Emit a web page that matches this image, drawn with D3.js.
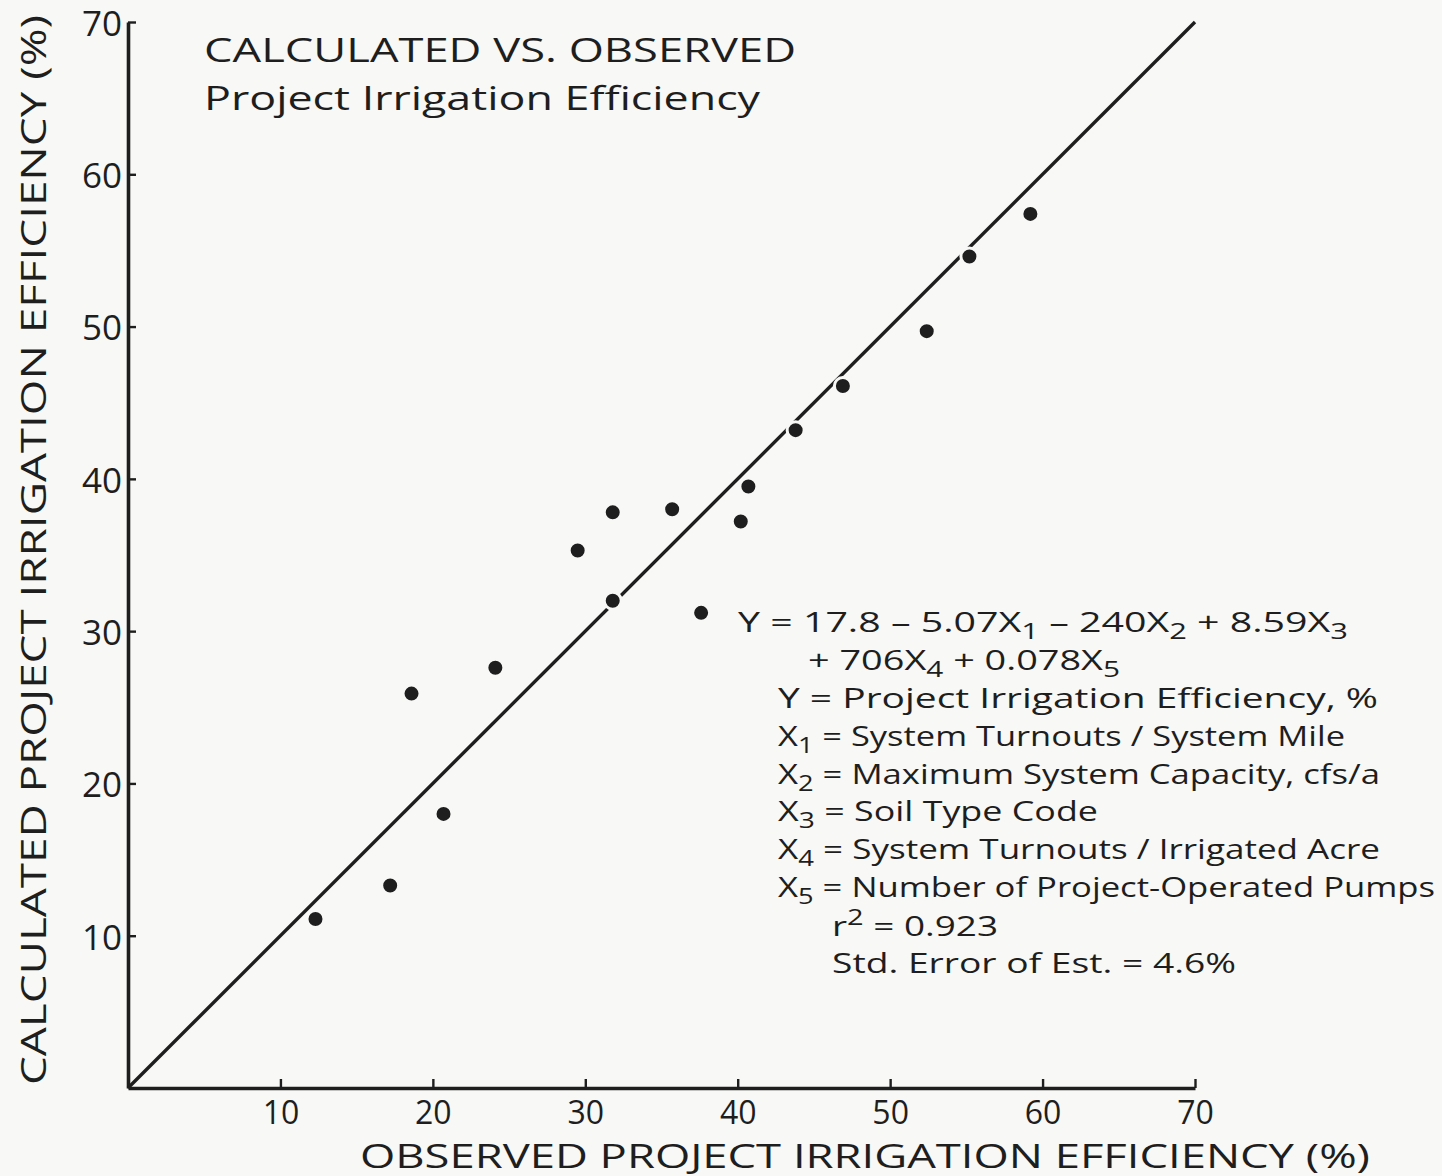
<!DOCTYPE html>
<html>
<head>
<meta charset="utf-8">
<script src="https://cdn.jsdelivr.net/npm/d3@7"></script>
<style>
  html, body { margin: 0; padding: 0; background: #f8f8f6; }
  svg { display: block; }
  text { font-family: "Open Sans", "DejaVu Sans", sans-serif; fill: #1e1e1e; }
</style>
</head>
<body>
<svg id="chart" width="1442" height="1176"></svg>
<script>
// Observed vs calculated project irrigation efficiency (%)
const observed   = [12.3, 17.2, 18.6, 20.7, 24.1, 29.5, 31.8, 31.8, 35.7, 37.6, 40.2, 40.7, 43.8, 46.9, 52.4, 55.2, 59.2];
const calculated = [11.1, 13.3, 25.9, 18.0, 27.6, 35.3, 37.8, 32.0, 38.0, 31.2, 37.2, 39.5, 43.2, 46.1, 49.7, 54.6, 57.4];
const tickValues = [10, 20, 30, 40, 50, 60, 70];
const axisMax = 70;

const svg = d3.select("#chart");
const margin = { left: 128, right: 247, top: 22, bottom: 88 };
const W = 1442, H = 1176;

const x = d3.scaleLinear().domain([0, axisMax]).range([margin.left, W - margin.right]);
const y = d3.scaleLinear().domain([0, axisMax]).range([H - margin.bottom, margin.top]);

const ink = "#1e1e1e";
const paper = "#f8f8f6";

// 1:1 line
svg.append("line")
  .attr("x1", x(0)).attr("y1", y(0))
  .attr("x2", x(axisMax)).attr("y2", y(axisMax))
  .attr("stroke", ink).attr("stroke-width", 3.4);

// Axes with inward ticks
const yAxis = svg.append("g")
  .attr("transform", `translate(${x(0)},0)`)
  .call(d3.axisLeft(y).tickValues(tickValues).tickSizeInner(-8).tickSizeOuter(0).tickPadding(8).tickFormat(d3.format("d")));
const xAxis = svg.append("g")
  .attr("transform", `translate(0,${y(0)})`)
  .call(d3.axisBottom(x).tickValues(tickValues).tickSizeInner(-9).tickSizeOuter(0).tickPadding(10).tickFormat(d3.format("d")));

[xAxis, yAxis].forEach(g => {
  g.select(".domain").attr("stroke", ink).attr("stroke-width", 3.6);
  g.selectAll(".tick line").attr("stroke", ink).attr("stroke-width", 2.4);
  g.selectAll(".tick text").attr("fill", ink).style("font-family", "\"Open Sans\", sans-serif");
});
yAxis.selectAll(".tick text").attr("font-size", 35).attr("dy", "0.38em").attr("x", -6);
xAxis.selectAll(".tick text").attr("font-size", 32).attr("dy", "0.82em");

// Points, with a thin halo so the line breaks around them
svg.append("g").selectAll("circle")
  .data(observed.map((v, i) => [v, calculated[i]]))
  .join("circle")
  .attr("cx", d => x(d[0]))
  .attr("cy", d => y(d[1]))
  .attr("r", 8.5)
  .attr("fill", ink)
  .attr("stroke", paper)
  .attr("stroke-width", 3);

// Axis titles
svg.append("text")
  .attr("x", 360).attr("y", 1168)
  .attr("font-size", 32)
  .attr("textLength", 1010).attr("lengthAdjust", "spacingAndGlyphs")
  .text("OBSERVED PROJECT IRRIGATION EFFICIENCY (%)");

svg.append("text")
  .attr("transform", "translate(46,1085) rotate(-90)")
  .attr("font-size", 34)
  .attr("textLength", 1070).attr("lengthAdjust", "spacingAndGlyphs")
  .text("CALCULATED PROJECT IRRIGATION EFFICIENCY (%)");

// Title
svg.append("text")
  .attr("x", 204).attr("y", 62)
  .attr("font-size", 32)
  .attr("textLength", 592).attr("lengthAdjust", "spacingAndGlyphs")
  .text("CALCULATED VS. OBSERVED");
svg.append("text")
  .attr("x", 204).attr("y", 110)
  .attr("font-size", 32)
  .attr("textLength", 556).attr("lengthAdjust", "spacingAndGlyphs")
  .text("Project Irrigation Efficiency");

// Regression equation block; each line is a list of [text, "sub" | "sup"]
const eqLines = [
  { x: 738, y: 632, w: 610, parts: [["Y = 17.8 \u2013 5.07X"], ["1", "sub"], [" \u2013 240X"], ["2", "sub"], [" + 8.59X"], ["3", "sub"]] },
  { x: 808, y: 670, w: 312, parts: [["+ 706X"], ["4", "sub"], [" + 0.078X"], ["5", "sub"]] },
  { x: 778, y: 708, w: 600, parts: [["Y  = Project Irrigation Efficiency, %"]] },
  { x: 778, y: 746, w: 567, parts: [["X"], ["1", "sub"], [" = System Turnouts / System Mile"]] },
  { x: 778, y: 784, w: 602, parts: [["X"], ["2", "sub"], [" = Maximum System Capacity, cfs/a"]] },
  { x: 778, y: 821, w: 320, parts: [["X"], ["3", "sub"], [" = Soil Type Code"]] },
  { x: 778, y: 859, w: 602, parts: [["X"], ["4", "sub"], [" = System Turnouts / Irrigated Acre"]] },
  { x: 778, y: 897, w: 657, parts: [["X"], ["5", "sub"], [" = Number of Project-Operated Pumps"]] },
  { x: 832, y: 936, w: 166, parts: [["r"], ["2", "sup"], [" = 0.923"]] },
  { x: 832, y: 973, w: 404, parts: [["Std. Error of Est. = 4.6%"]] }
];

const shift = { sub: 7, sup: -11 };
const eq = svg.append("g").attr("font-size", 28);
eqLines.forEach(line => {
  const t = eq.append("text")
    .attr("x", line.x).attr("y", line.y)
    .attr("textLength", line.w).attr("lengthAdjust", "spacingAndGlyphs");
  let offset = 0;
  line.parts.forEach(([s, kind]) => {
    const target = kind ? shift[kind] : 0;
    const sp = t.append("tspan").text(s).attr("dy", target - offset);
    if (kind) sp.attr("font-size", 22);
    offset = target;
  });
});
</script>
</body>
</html>
